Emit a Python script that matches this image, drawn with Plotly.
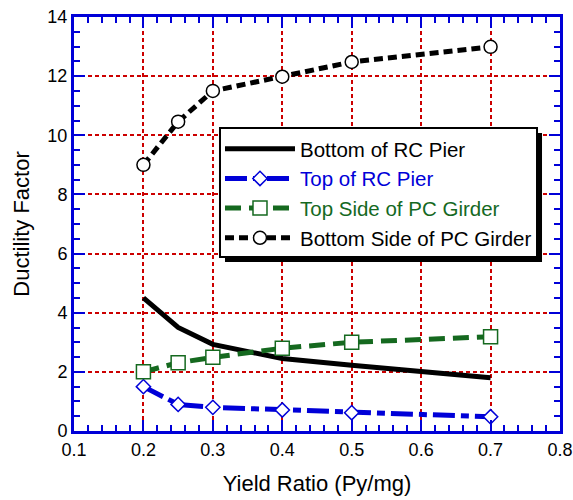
import plotly.graph_objects as go

# Data
x_bottom_rc = [0.2, 0.25, 0.3, 0.4, 0.5, 0.6, 0.7]
y_bottom_rc = [4.5, 3.5, 2.93, 2.45, 2.22, 2.03, 1.8]

x_top_rc = [0.2, 0.25, 0.3, 0.4, 0.5, 0.7]
y_top_rc = [1.5, 0.9, 0.8, 0.71, 0.62, 0.48]

x_top_pc = [0.2, 0.25, 0.3, 0.4, 0.5, 0.7]
y_top_pc = [2.0, 2.31, 2.49, 2.8, 3.0, 3.19]

x_bot_pc = [0.2, 0.25, 0.3, 0.4, 0.5, 0.7]
y_bot_pc = [9.0, 10.46, 11.5, 11.98, 12.48, 12.99]

names = ["Bottom of RC Pier", "Top of RC Pier", "Top Side of PC Girder", "Bottom Side of PC Girder"]

BLUE = "#0000d8"
GREEN = "#15691f"
RED = "#cc0000"
FONT = "Arial, Liberation Sans, sans-serif"

fig = go.Figure()
fig.add_trace(go.Scatter(
    x=x_bottom_rc, y=y_bottom_rc, mode="lines", name=names[0],
    legendgroup="a", line=dict(color="black", width=5)))
fig.add_trace(go.Scatter(
    x=x_top_rc, y=y_top_rc, mode="lines+markers",
    name='<span style="color:%s">%s</span>' % (BLUE, names[1]),
    legendgroup="b", line=dict(color=BLUE, width=5, dash="22px,6px,8px,6px"),
    marker=dict(symbol="diamond", size=11, color="white", line=dict(color=BLUE, width=1.5))))
fig.add_trace(go.Scatter(
    x=x_top_pc, y=y_top_pc, mode="lines+markers",
    name='<span style="color:%s">%s</span>' % (GREEN, names[2]),
    legendgroup="c", line=dict(color=GREEN, width=5, dash="16px,8px"),
    marker=dict(symbol="square", size=14, color="white", line=dict(color=GREEN, width=1.5))))
fig.add_trace(go.Scatter(
    x=x_bot_pc, y=y_bot_pc, mode="lines+markers", name=names[3],
    legendgroup="d", line=dict(color="black", width=5, dash="9px,5px"),
    marker=dict(symbol="circle", size=13, color="white", line=dict(color="black", width=1.5))))

axis_common = dict(
    showline=True, linecolor=BLUE, linewidth=3, mirror="allticks",
    ticks="inside", tickcolor=BLUE, tickwidth=2, ticklen=11,
    showgrid=True, gridcolor=RED, gridwidth=2, griddash="4px,3px",
    zeroline=False, automargin=False,
    tickfont=dict(family=FONT, size=18, color="black"),
)

fig.update_xaxes(
    range=[0.1, 0.8], dtick=0.1, tick0=0.1, tickformat=".1f",
    minor=dict(dtick=0.02, ticks="inside", ticklen=6, tickcolor=BLUE, tickwidth=2, showgrid=False),
    title=dict(text="Yield Ratio (Py/mg)", font=dict(family=FONT, size=22, color="black"), standoff=18),
    **axis_common)
fig.update_yaxes(
    range=[0, 14], dtick=2, tick0=0,
    minor=dict(dtick=0.5, ticks="inside", ticklen=6, tickcolor=BLUE, tickwidth=2, showgrid=False),
    title=dict(text="Ductility Factor", font=dict(family=FONT, size=22, color="black"), standoff=12),
    **axis_common)

PW, PH = 486.0, 414.0
BX0, BX1, BY0, BY1 = 0.3004, 0.9527, 0.4203, 0.7319
fig.update_layout(
    width=573, height=500,
    margin=dict(l=74, r=13, t=17, b=69, autoexpand=False),
    paper_bgcolor="white", plot_bgcolor="white",
    font=dict(family=FONT, color="black"),
    showlegend=True,
    legend=dict(
        x=BX0, y=BY1 - 1/PH, xanchor="left", yanchor="top",
        bgcolor="rgba(0,0,0,0)", borderwidth=0,
        font=dict(family=FONT, size=20.5, color="black"),
        itemwidth=70, tracegroupgap=2, traceorder="normal",
    ),
    shapes=[
        dict(type="rect", xref="paper", yref="paper",
             x0=BX0 + 5/PW, x1=BX1 + 5/PW, y0=BY0 - 5/PH, y1=BY1 - 5/PH,
             fillcolor="black", line=dict(width=0), layer="above"),
        dict(type="rect", xref="paper", yref="paper",
             x0=BX0, x1=BX1, y0=BY0, y1=BY1,
             fillcolor="white", line=dict(color="black", width=2), layer="above"),
    ],
)

fig.write_html("out.html")
